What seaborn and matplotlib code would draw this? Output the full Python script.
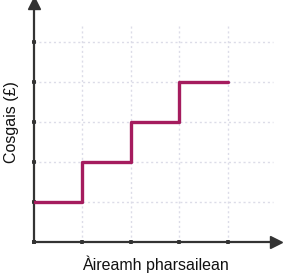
import matplotlib
matplotlib.use("Agg")
import matplotlib.pyplot as plt
import seaborn as sns
import numpy as np

parcels = [0, 1, 2, 3, 4]
cost = [1, 2, 3, 4, 4]
x_ticks = [0, 1, 2, 3, 4]
y_ticks = [0, 1, 2, 3, 4, 5]

sns.set_style("white")
plt.rcParams['font.family'] = ['Liberation Sans', 'DejaVu Sans']

fig = plt.figure(figsize=(3.04, 2.74), dpi=100)
ax = fig.add_axes([34/304, 32/274, 242/304, 239/274])
ax.set_xlim(0, 5)
ax.set_ylim(0, 239/40)

grid_col = '#dcdce8'
for xv in x_ticks[1:]:
    ax.plot([xv, xv], [0, 5.45], color=grid_col, lw=1, ls=(0, (1.5, 2)), zorder=0)
for yv in y_ticks[1:]:
    ax.plot([0, 4.94], [yv, yv], color=grid_col, lw=1, ls=(0, (1.5, 2)), zorder=0)

sns.lineplot(x=parcels, y=cost, drawstyle='steps-post', color='#a51c5e',
             linewidth=2.4, ax=ax, zorder=3)

axcol = '#333333'
for s in ['top', 'right']:
    ax.spines[s].set_visible(False)
for s in ['left', 'bottom']:
    ax.spines[s].set_color(axcol)
    ax.spines[s].set_linewidth(1.6)

ax.plot(1, 0, '>', color=axcol, markersize=8, transform=ax.transAxes, clip_on=False)
ax.plot(0, 1, '^', color=axcol, markersize=8, transform=ax.transAxes, clip_on=False)

ax.set_xticks(x_ticks)
ax.set_yticks(y_ticks)
ax.tick_params(axis='both', direction='inout', length=3, width=2.6, color=axcol,
               bottom=True, left=True, labelbottom=False, labelleft=False)

ax.set_xlabel('Àireamh pharsailean', fontsize=11.5, color='#111111', labelpad=8)
ax.set_ylabel('Cosgais (£)', fontsize=11.5, color='#111111', labelpad=9)

fig.savefig('out.png', dpi=100)
